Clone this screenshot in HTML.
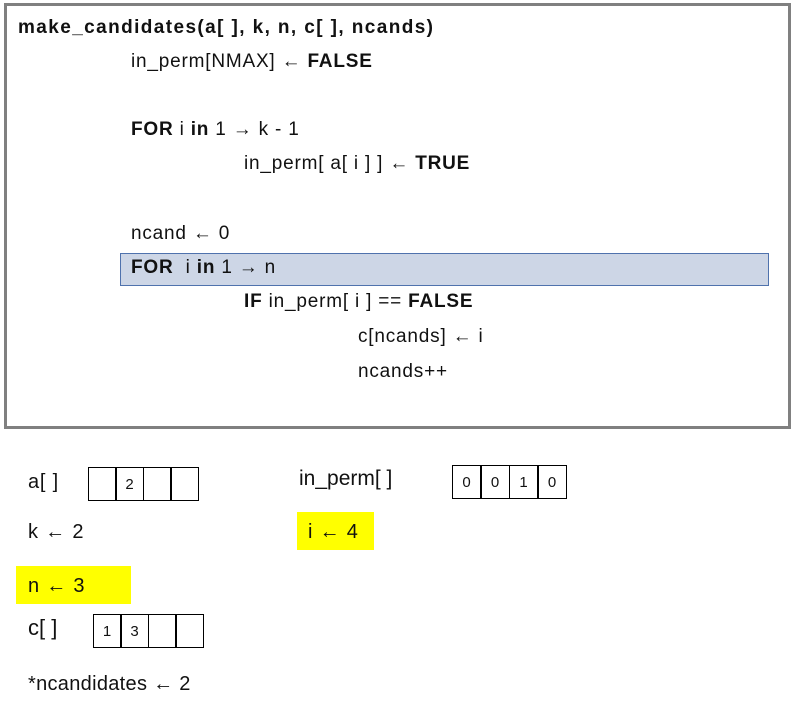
<!DOCTYPE html>
<html><head><meta charset="utf-8"><style>
body{margin:0;width:792px;height:704px;background:#fff;position:relative;overflow:hidden;font-family:"Liberation Sans",sans-serif;color:#111}
.t{position:absolute;white-space:pre;font-size:19px;line-height:24px;letter-spacing:0.8px}
b{font-weight:bold}
.box{position:absolute;left:4px;top:3px;width:781px;height:420px;border:3px solid #808080}
.hl{position:absolute;left:120px;top:253px;width:647px;height:31px;background:#cdd6e6;border:1px solid #4f72ad}
.y{position:absolute;background:#ffff00}
.arr{position:absolute;display:flex}
.arr div{border:1.5px solid #000;margin-left:-1.5px;display:flex;align-items:center;justify-content:center;font-size:15px;box-sizing:border-box}
</style></head><body>
<div class="box"></div>
<div class="hl"></div>
<div class="t" style="left:18px;top:16px;font-size:19px;letter-spacing:1.4px"><b>make_candidates(a[ ], k, n, c[ ], ncands)</b></div>
<div class="t" style="left:131px;top:50px">in_perm[NMAX] ← <b>FALSE</b></div>
<div class="t" style="left:131px;top:118px"><b>FOR</b> i <b>in</b> 1 → k - 1</div>
<div class="t" style="left:244px;top:152px">in_perm[ a[ i ] ] ← <b>TRUE</b></div>
<div class="t" style="left:131px;top:222px">ncand ← 0</div>
<div class="t" style="left:131px;top:256px"><b>FOR</b>  i <b>in</b> 1 → n</div>
<div class="t" style="left:244px;top:290px"><b>IF</b> in_perm[ i ] == <b>FALSE</b></div>
<div class="t" style="left:358px;top:325px">c[ncands] ← i</div>
<div class="t" style="left:358px;top:360px">ncands++</div>

<div class="y" style="left:297px;top:512px;width:77px;height:38px"></div>
<div class="y" style="left:16px;top:566px;width:115px;height:38px"></div>

<div class="t" style="left:28px;top:470px;font-size:20px">a[ ]</div>
<div class="arr" style="left:89px;top:467px"><div style="width:29px;height:34px"></div><div style="width:29px;height:34px">2</div><div style="width:29px;height:34px"></div><div style="width:29px;height:34px"></div></div>
<div class="t" style="left:299px;top:467px;font-size:21px;letter-spacing:0">in_perm[ ]</div>
<div class="arr" style="left:453px;top:465px"><div style="width:30px;height:34px">0</div><div style="width:30px;height:34px">0</div><div style="width:30px;height:34px">1</div><div style="width:30px;height:34px">0</div></div>
<div class="t" style="left:28px;top:520px;font-size:20px">k ← 2</div>
<div class="t" style="left:308px;top:520px;font-size:20px">i ← 4</div>
<div class="t" style="left:28px;top:574px;font-size:20px">n ← 3</div>
<div class="t" style="left:28px;top:616px;font-size:22px;letter-spacing:0">c[ ]</div>
<div class="arr" style="left:94px;top:614px"><div style="width:29px;height:34px">1</div><div style="width:29px;height:34px">3</div><div style="width:29px;height:34px"></div><div style="width:29px;height:34px"></div></div>
<div class="t" style="left:28px;top:672px;font-size:20px;letter-spacing:0.3px">*ncandidates ← 2</div>
</body></html>
